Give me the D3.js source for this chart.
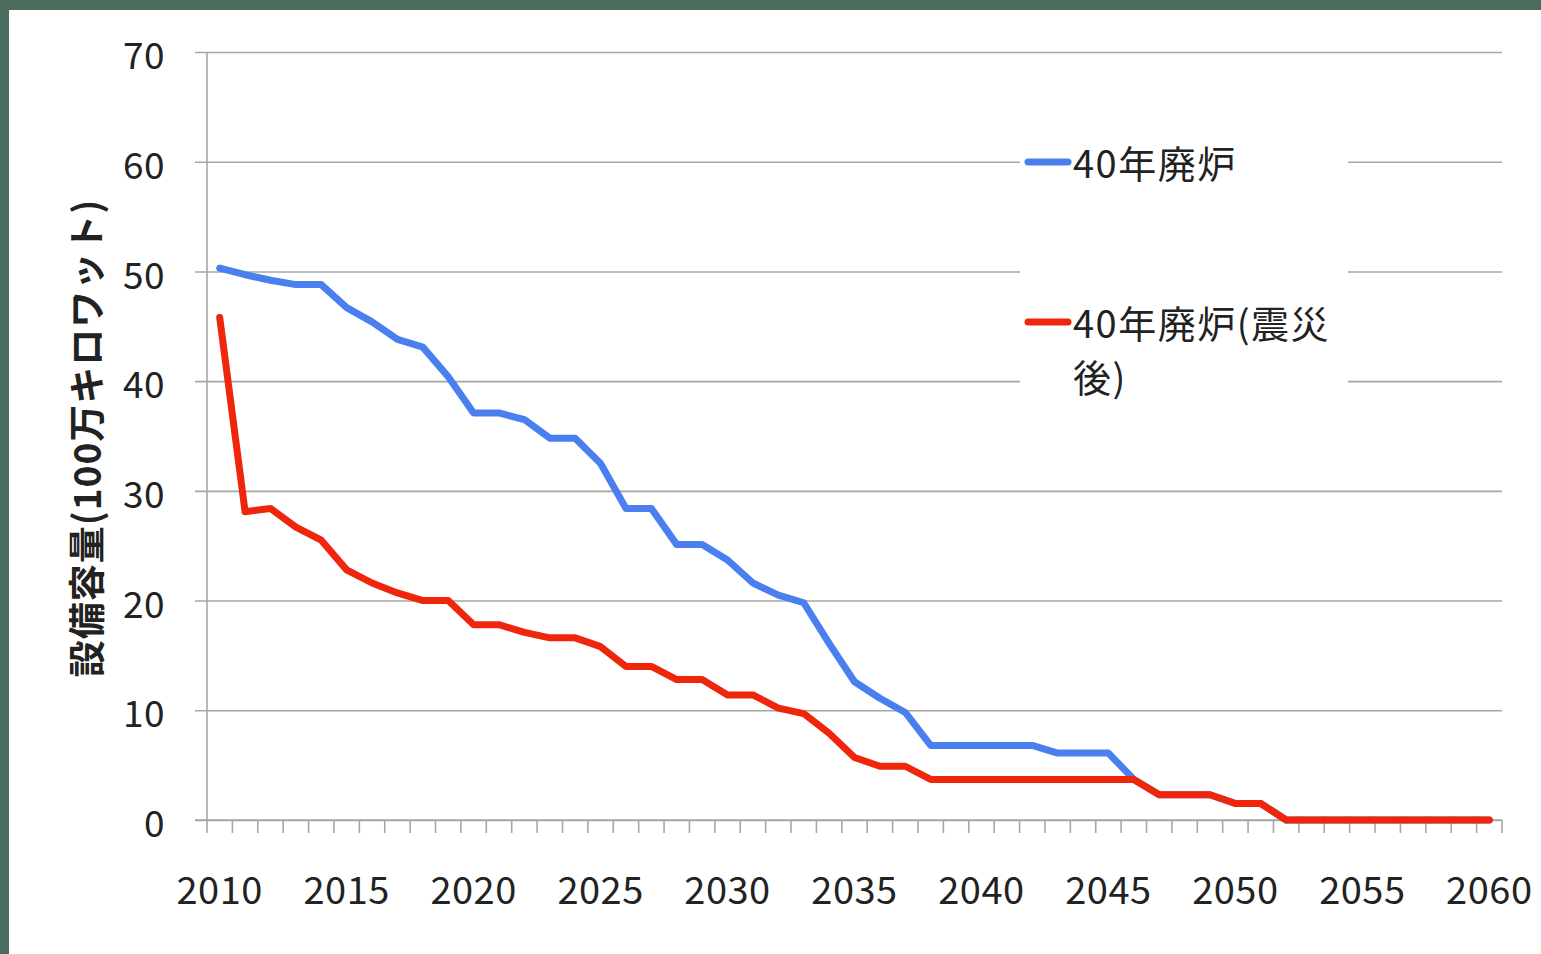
<!DOCTYPE html>
<html>
<head>
<meta charset="utf-8">
<script src="https://cdn.jsdelivr.net/npm/d3@7"></script>
<style>
  html, body { margin: 0; padding: 0; background: #4b6b5c; }
  svg { display: block; }
  text { font-family: "Noto Sans CJK JP", "Noto Sans", sans-serif; }
</style>
</head>
<body>
<svg id="chart" width="1541" height="954"></svg>
<script>
const years = [2010,2011,2012,2013,2014,2015,2016,2017,2018,2019,
  2020,2021,2022,2023,2024,2025,2026,2027,2028,2029,
  2030,2031,2032,2033,2034,2035,2036,2037,2038,2039,
  2040,2041,2042,2043,2044,2045,2046,2047,2048,2049,
  2050,2051,2052,2053,2054,2055,2056,2057,2058,2059,2060];

const series40 = [50.3,49.7,49.2,48.8,48.8,46.7,45.4,43.8,43.1,40.4,
  37.1,37.1,36.5,34.8,34.8,32.5,28.4,28.4,25.1,25.1,
  23.7,21.6,20.5,19.8,16.1,12.6,11.1,9.8,6.8,6.8,
  6.8,6.8,6.8,6.1,6.1,6.1,3.7,2.3,2.3,2.3,
  1.5,1.5,0,0,0,0,0,0,0,0,0];

const series40Quake = [45.8,28.1,28.4,26.7,25.5,22.8,21.6,20.7,20.0,20.0,
  17.8,17.8,17.1,16.6,16.6,15.8,14.0,14.0,12.8,12.8,
  11.4,11.4,10.2,9.7,7.9,5.7,4.9,4.9,3.7,3.7,
  3.7,3.7,3.7,3.7,3.7,3.7,3.7,2.3,2.3,2.3,
  1.5,1.5,0,0,0,0,0,0,0,0,0];

const yTicks = [0,10,20,30,40,50,60,70];
const xLabelYears = [2010,2015,2020,2025,2030,2035,2040,2045,2050,2055,2060];
const legendLabels = ["40年廃炉", "40年廃炉(震災", "後)"];
const yTitle = "設備容量(100万キロワット)";

const svg = d3.select("#chart");
// white panel
svg.append("rect").attr("x", 9).attr("y", 10).attr("width", 1541 - 9).attr("height", 954 - 10).attr("fill", "#ffffff");

const x = d3.scaleBand().domain(years).range([207, 1502]).padding(0);
const cx = d => x(d) + x.bandwidth() / 2;
const y = d3.scaleLinear().domain([0, 70]).range([820, 52]);

const gridColor = "#a6a6a6";

// horizontal gridlines + y labels
const yAxis = d3.axisLeft(y).tickValues(yTicks).tickSizeInner(-(1502 - 195)).tickSizeOuter(0).tickPadding(30);
const gy = svg.append("g").attr("transform", "translate(195,0)").call(yAxis);
gy.select(".domain").remove();
gy.selectAll(".tick line").attr("stroke", gridColor).attr("stroke-width", 1.6);
gy.selectAll(".tick text").attr("font-size", 37).attr("fill", "#222").attr("dy", "0.45em")
  .attr("letter-spacing", 0.5);

// vertical axis line
svg.append("line").attr("x1", 207).attr("x2", 207).attr("y1", y(70)).attr("y2", y(0))
  .attr("stroke", gridColor).attr("stroke-width", 1.6);

// x axis line with ticks at band boundaries
svg.append("line").attr("x1", 195).attr("x2", 1502).attr("y1", y(0)).attr("y2", y(0))
  .attr("stroke", gridColor).attr("stroke-width", 1.6);
const boundaries = years.map(d => x(d)).concat([x.range()[1]]);
svg.append("g").selectAll("line").data(boundaries).join("line")
  .attr("x1", d => d).attr("x2", d => d).attr("y1", y(0)).attr("y2", y(0) + 13)
  .attr("stroke", gridColor).attr("stroke-width", 1.6);

// x labels
svg.append("g").selectAll("text").data(xLabelYears).join("text")
  .attr("x", d => cx(d)).attr("y", 904).attr("text-anchor", "middle")
  .attr("font-size", 38).attr("letter-spacing", 0.5).attr("fill", "#222").text(d => d);

// y title
svg.append("text").attr("transform", "translate(101,438) rotate(-90)")
  .attr("text-anchor", "middle").attr("font-size", 37).attr("font-weight", "bold")
  .attr("letter-spacing", 1).attr("fill", "#222").text(yTitle);

// legend background
svg.append("rect").attr("x", 1020).attr("y", 112).attr("width", 328).attr("height", 295).attr("fill", "#fff");

// lines
const line = d3.line().x((d, i) => cx(years[i])).y(d => y(d)).curve(d3.curveLinear);
const blue = "#4a7ff0", red = "#f0260c";
svg.append("path").datum(series40).attr("d", line).attr("fill", "none")
  .attr("stroke", blue).attr("stroke-width", 7).attr("stroke-linejoin", "round").attr("stroke-linecap", "round");
svg.append("path").datum(series40Quake).attr("d", line).attr("fill", "none")
  .attr("stroke", red).attr("stroke-width", 7).attr("stroke-linejoin", "round").attr("stroke-linecap", "round");

// legend
const lg = svg.append("g");
const lfs = 38, lls = 1.5;
lg.append("line").attr("x1", 1028).attr("x2", 1068).attr("y1", 162).attr("y2", 162)
  .attr("stroke", blue).attr("stroke-width", 7).attr("stroke-linecap", "round");
lg.append("text").attr("x", 1073).attr("y", 178).attr("font-size", lfs).attr("letter-spacing", lls).attr("fill", "#222").text(legendLabels[0]);
lg.append("line").attr("x1", 1028).attr("x2", 1068).attr("y1", 322).attr("y2", 322)
  .attr("stroke", red).attr("stroke-width", 7).attr("stroke-linecap", "round");
lg.append("text").attr("x", 1073).attr("y", 338).attr("font-size", lfs).attr("letter-spacing", lls).attr("fill", "#222").text(legendLabels[1]);
lg.append("text").attr("x", 1073).attr("y", 392).attr("font-size", lfs).attr("letter-spacing", lls).attr("fill", "#222").text(legendLabels[2]);
</script>
</body>
</html>
